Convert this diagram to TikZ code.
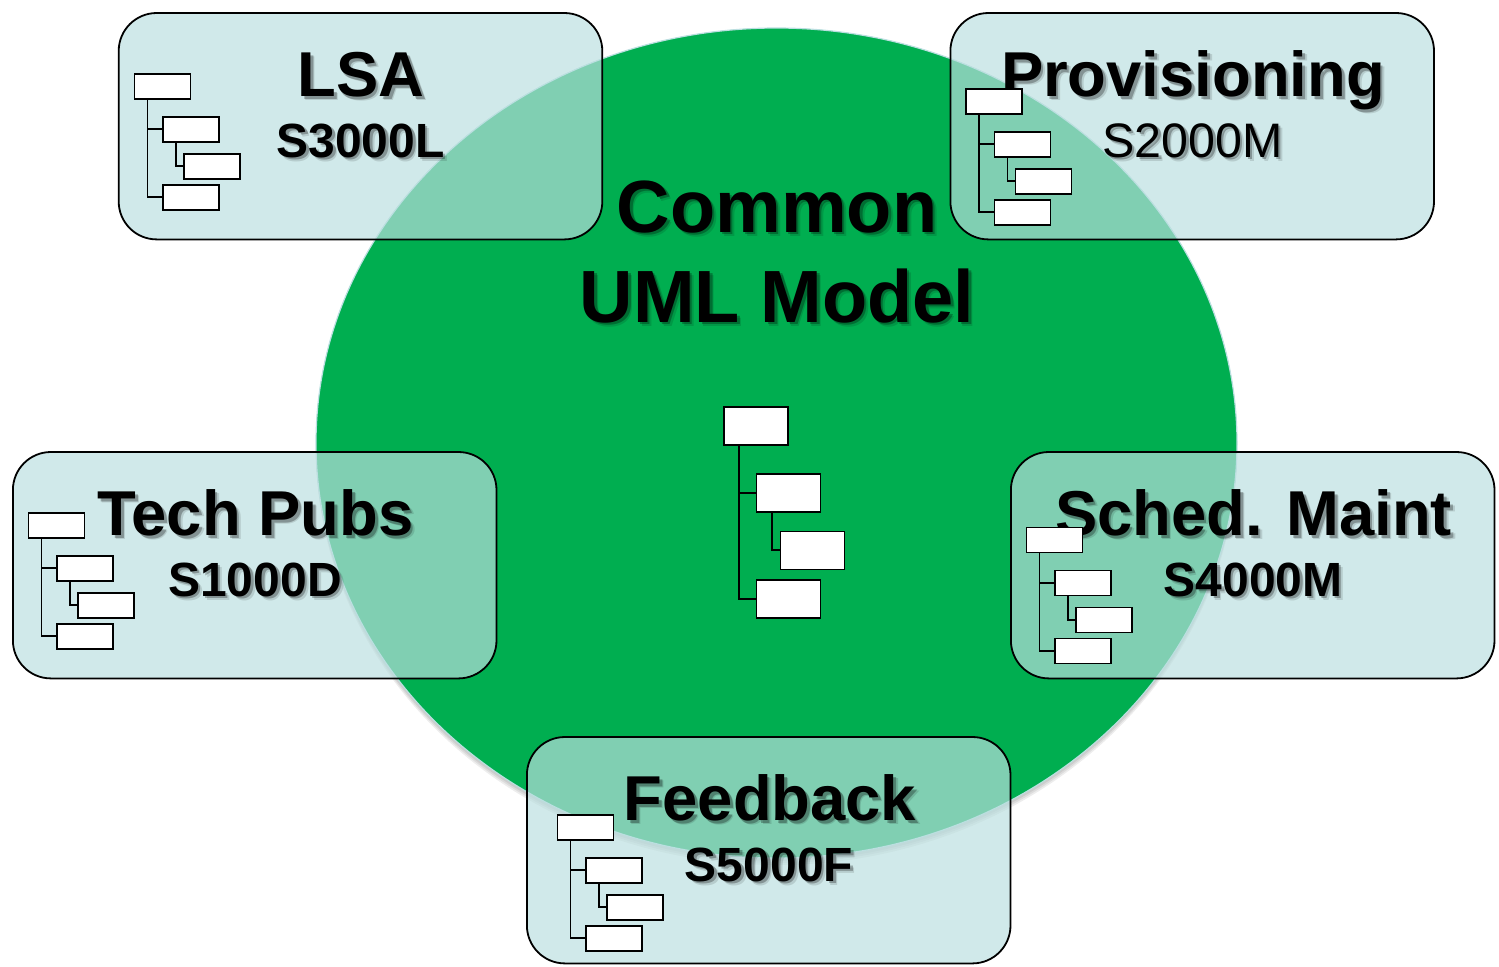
\documentclass[tikz,border=0pt]{standalone}
\usepackage{fontspec}
\setmainfont{Liberation Sans}
\usetikzlibrary{calc,shapes.geometric}
\definecolor{circgreen}{RGB}{0,174,80}
\definecolor{boxfill}{RGB}{187,223,224}
\tikzset{
  x=0.5pt,y=-0.5pt,
  disc/.style={ellipse,draw=boxfill,line width=0.6pt,fill=circgreen,minimum width=460.5pt,minimum height=415pt,inner sep=0pt,outer sep=0pt},
  discshade/.style={ellipse,fill=black,fill opacity=0.07,minimum width=460.5pt,minimum height=415pt,inner sep=0pt,outer sep=0pt},
  panel/.style={draw=black,line width=0.9pt,fill=boxfill,fill opacity=0.686,rounded corners=19pt,minimum width=241.8pt,minimum height=113.2pt,inner sep=0pt},
  sbox/.style={draw=black,fill=white,line width=0.75pt,minimum width=28pt,minimum height=12.5pt,inner sep=0pt,anchor=north west},
  bbox/.style={draw=black,fill=white,line width=0.9pt,minimum width=32pt,minimum height=19pt,inner sep=0pt,anchor=north west},
  link/.style={draw=black,line width=0.85pt},
  blink/.style={draw=black,line width=1pt},
  ttl/.style={font=\bfseries\fontsize{31.7}{36}\selectfont,inner sep=0pt,anchor=base},
  sub/.style={font=\bfseries\fontsize{24}{30}\selectfont,inner sep=0pt,anchor=base},
  subr/.style={font=\fontsize{24.2}{30}\selectfont,inner sep=0pt,anchor=base},
  big/.style={font=\bfseries\fontsize{37}{40}\selectfont,inner sep=0pt,anchor=base},
}
\newcommand{\tree}[3]{%
  \node[sbox] (#1a) at (#2,#3) {};
  \node[sbox] (#1b) at (#2+28.5,#3+43) {};
  \node[sbox] (#1c) at (#2+49.5,#3+80) {};
  \node[sbox] (#1d) at (#2+28.5,#3+111) {};
  \coordinate (#1t) at ($(#1a.south west)+(14,0)$);
  \coordinate (#1u) at ($(#1b.south west)+(14,0)$);
  \draw[link] (#1t) |- (#1b.west);
  \draw[link] (#1t) |- (#1d.west);
  \draw[link] (#1u) |- (#1c.west);
}
\newcommand{\shadowed}[1]{%
  \leavevmode
  \pgfsetfillopacity{0.12}%
  \rlap{\kern2.1pt\raisebox{-2.1pt}{#1}}%
  \pgfsetfillopacity{0.28}%
  \rlap{\kern1.3pt\raisebox{-1.3pt}{#1}}%
  \pgfsetfillopacity{1}%
  #1%
}
\begin{document}
\begin{tikzpicture}
\useasboundingbox (0,0) rectangle (1499,966);
\node[discshade] (shadea) at (776.5,450) {};
\node[discshade] (shadeb) at (776.5,448) {};
\node[discshade] (shadec) at (776.5,446) {};
\node[disc] (circle) at (776.5,443) {};
\node[big] (cm) at (777,232) {\shadowed{Common}};
\node[big] (um) at (777,322) {\shadowed{UML Model}};
\node[bbox] (ma) at (723,406) {};
\node[bbox] (mb) at (755.5,473) {};
\node[bbox] (mc) at (779.5,530.5) {};
\node[bbox] (md) at (755.5,579) {};
\coordinate (mt) at ($(ma.south west)+(16,0)$);
\coordinate (mu) at ($(mb.south west)+(16,0)$);
\draw[blink] (mt) |- (mb.west);
\draw[blink] (mt) |- (md.west);
\draw[blink] (mu) |- (mc.west);
\node[panel] (lsa) at (360.5,126.2) {};
\node[panel] (prov) at (1192.2,126.2) {};
\node[panel] (tech) at (254.7,565.2) {};
\node[panel] (sched) at (1252.7,565.2) {};
\node[panel] (feed) at (768.7,850.2) {};
\node[ttl] (lsat) at (361,96.5) {\shadowed{LSA}};
\node[sub] (lsas) at (360.5,157) {\shadowed{S3000L}};
\node[ttl] (provt) at (1193,96.5) {\shadowed{Provisioning}};
\node[subr] (provs) at (1192.5,157) {\shadowed{S2000M}};
\node[ttl] (techt) at (255.5,535.5) {\shadowed{Tech Pubs}};
\node[sub] (techs) at (255,596) {\shadowed{S1000D}};
\node[ttl] (schedt) at (1253.5,535.5) {\shadowed{Sched. Maint}};
\node[sub] (scheds) at (1253,596) {\shadowed{S4000M}};
\node[ttl] (feedt) at (770,820.5) {\shadowed{Feedback}};
\node[sub] (feeds) at (769,881) {\shadowed{S5000F}};
\tree{l}{133.5}{73}
\tree{p}{965}{88}
\tree{t}{27.5}{512}
\tree{s}{1025.5}{526.5}
\tree{f}{556.5}{814}
\end{tikzpicture}
\end{document}
